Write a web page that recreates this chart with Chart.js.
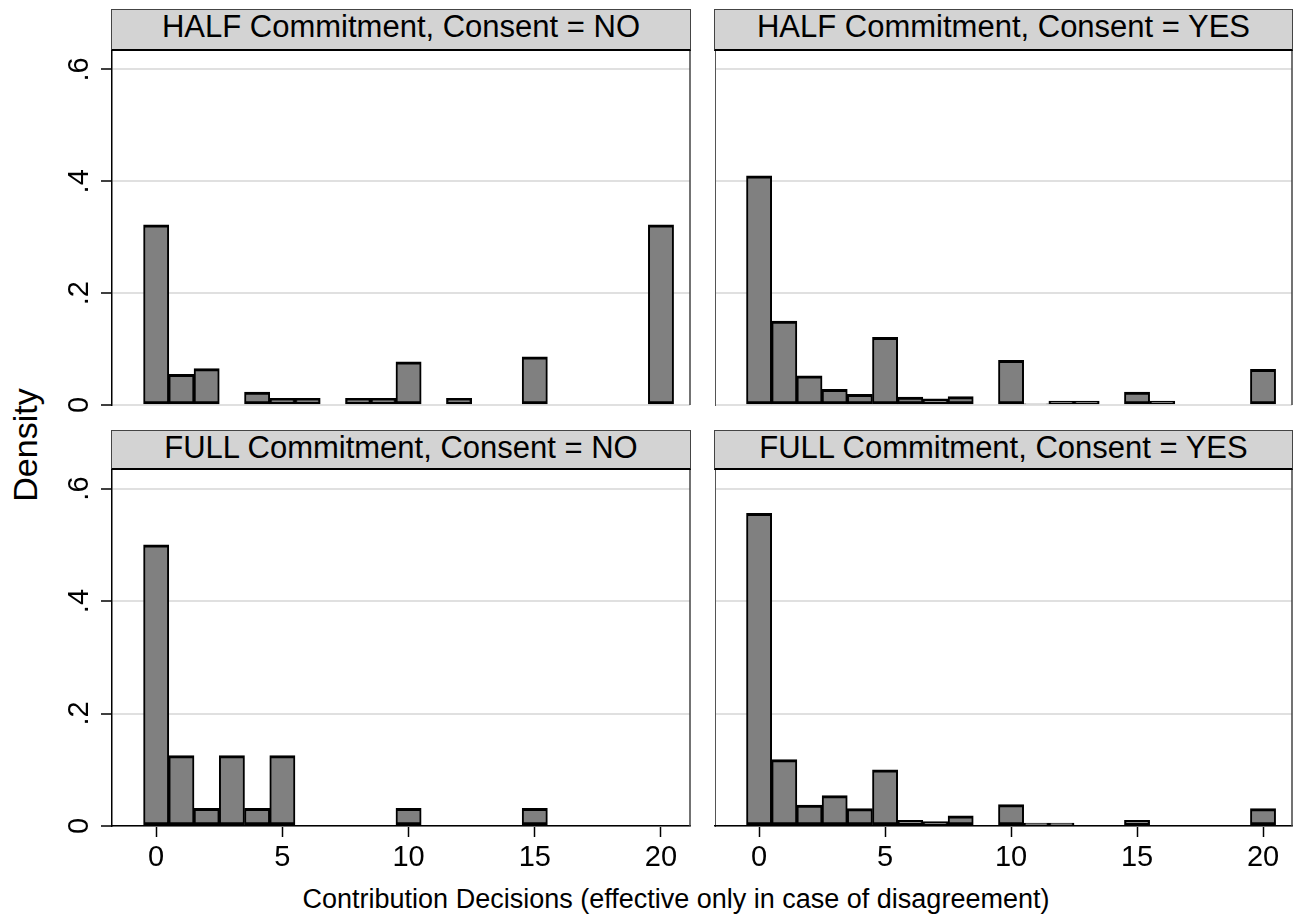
<!DOCTYPE html>
<html>
<head>
<meta charset="utf-8">
<script src="https://cdn.jsdelivr.net/npm/chart.js@4.4.0/dist/chart.umd.min.js"></script>
<style>
  body { margin: 0; background: #fff; }
  #wrap { position: relative; width: 1296px; height: 923px; overflow: hidden; font-family: "Liberation Sans", Arial, sans-serif; color: #000; }
  canvas { position: absolute; }
  .head { position: absolute; box-sizing: border-box; background: #d3d3d3; border: 1px solid #444; border-bottom: 2.5px solid #000; }
  .headtxt { position: absolute; font-size: 31px; line-height: 31px; text-align: center; white-space: nowrap; }
  #ytitle { position: absolute; left: -75px; top: 425px; width: 200px; height: 40px; line-height: 40px; font-size: 34px; text-align: center; transform: rotate(-90deg); }
  #xtitle { position: absolute; left: 176px; top: 886px; width: 1000px; font-size: 27px; line-height: 27px; text-align: center; white-space: nowrap; }
</style>
</head>
<body>
<div id="wrap">
  <div id="ytitle">Density</div>
  <div id="xtitle">Contribution Decisions (effective only in case of disagreement)</div>
</div>
<script>
// data (density per 1-unit bin, bins centred on integers)
const panelTitles = [
  'HALF Commitment, Consent = NO',
  'HALF Commitment, Consent = YES',
  'FULL Commitment, Consent = NO',
  'FULL Commitment, Consent = YES'
];

const halfNoBins = [0, 1, 2, 4, 5, 6, 8, 9, 10, 12, 15, 20];
const halfNoDensity = [0.322, 0.055, 0.065, 0.023, 0.012, 0.012, 0.012, 0.012, 0.077, 0.012, 0.086, 0.322];

const halfYesBins = [0, 1, 2, 3, 4, 5, 6, 7, 8, 10, 11, 12, 13, 15, 16, 20];
const halfYesDensity = [0.410, 0.150, 0.052, 0.028, 0.019, 0.121, 0.014, 0.011, 0.015, 0.080, 0.002, 0.007, 0.007, 0.023, 0.007, 0.064];

const fullNoBins = [0, 1, 2, 3, 4, 5, 10, 15];
const fullNoDensity = [0.5, 0.125, 0.03125, 0.125, 0.03125, 0.125, 0.03125, 0.03125];

const fullYesBins = [0, 1, 2, 3, 4, 5, 6, 7, 8, 10, 11, 12, 15, 20];
const fullYesDensity = [0.556, 0.118, 0.037, 0.054, 0.031, 0.100, 0.010, 0.008, 0.018, 0.038, 0.005, 0.005, 0.010, 0.031];

const xTicks = [0, 5, 10, 15, 20];
const yTicks = [0, 0.2, 0.4, 0.6];
const yTickLabels = ['0', '.2', '.4', '.6'];

const FONT = '"Liberation Sans", Arial, sans-serif';

// panel boxes: [left, top, right, bottom] of the plot region
const panels = [
  { bins: halfNoBins, dens: halfNoDensity, left: true, bottom: false, box: [112, 51, 690, 405], head: [111, 9, 580, 42], txtTop: 11 },
  { bins: halfYesBins, dens: halfYesDensity, left: false, bottom: false, box: [715, 51, 1292, 405], head: [714, 9, 579, 42], txtTop: 11 },
  { bins: fullNoBins, dens: fullNoDensity, left: true, bottom: true, box: [112, 470, 690, 826], head: [111, 430, 580, 40], txtTop: 432 },
  { bins: fullYesBins, dens: fullYesDensity, left: false, bottom: true, box: [715, 470, 1292, 826], head: [714, 430, 579, 40], txtTop: 432 }
];

const frame = {
  id: 'frame',
  afterDraw(chart) {
    const a = chart.chartArea;
    const ctx = chart.ctx;
    ctx.save();
    ctx.strokeStyle = '#444';
    ctx.lineWidth = 1.5;
    ctx.beginPath();
    ctx.moveTo(a.right, a.top);
    ctx.lineTo(a.right, a.bottom);
    ctx.stroke();
    ctx.restore();
  }
};

const yLabels = {
  id: 'yLabels',
  afterDraw(chart, args, opts) {
    if (!opts.show) return;
    const ctx = chart.ctx;
    const ys = chart.scales.y;
    ctx.save();
    ctx.font = '29px ' + FONT;
    ctx.fillStyle = '#000';
    ctx.textAlign = 'center';
    ctx.textBaseline = 'alphabetic';
    yTicks.forEach(function(v, i) {
      ctx.save();
      ctx.translate(88, ys.getPixelForValue(v));
      ctx.rotate(-Math.PI / 2);
      ctx.fillText(yTickLabels[i], 0, 0);
      ctx.restore();
    });
    ctx.restore();
  }
};

const wrap = document.getElementById('wrap');

panels.forEach(function(p, idx) {
  // header strip
  const h = document.createElement('div');
  h.className = 'head';
  h.style.left = p.head[0] + 'px';
  h.style.top = p.head[1] + 'px';
  h.style.width = p.head[2] + 'px';
  h.style.height = p.head[3] + 'px';
  wrap.appendChild(h);

  const t = document.createElement('div');
  t.className = 'headtxt';
  t.style.left = p.head[0] + 'px';
  t.style.width = p.head[2] + 'px';
  t.style.top = p.txtTop + 'px';
  t.textContent = panelTitles[idx];
  wrap.appendChild(t);

  // canvas sized so the chart area lands on the plot box
  const axisW = p.left ? 112 : 0;
  const padL = p.left ? 0 : 3;
  const axisH = p.bottom ? 54 : 0;
  const padB = p.bottom ? 0 : 14;
  const cLeft = p.box[0] - axisW - padL;
  const cTop = p.box[1] - 3;
  const w = p.box[2] - cLeft + 3;
  const hgt = p.box[3] - cTop + axisH + padB;

  const canvas = document.createElement('canvas');
  canvas.width = w;
  canvas.height = hgt;
  canvas.style.left = cLeft + 'px';
  canvas.style.top = cTop + 'px';
  canvas.style.width = w + 'px';
  canvas.style.height = hgt + 'px';
  wrap.appendChild(canvas);

  const points = p.bins.map(function(b, i) { return { x: b, y: p.dens[i] }; });

  new Chart(canvas.getContext('2d'), {
    type: 'bar',
    data: {
      datasets: [{
        data: points,
        backgroundColor: '#808080',
        borderColor: '#000',
        borderWidth: { top: 3, bottom: 3, left: 2, right: 2 },
        borderSkipped: false,
        barPercentage: 1,
        categoryPercentage: 1
      }]
    },
    options: {
      responsive: false,
      animation: false,
      devicePixelRatio: 1,
      layout: { padding: { left: padL, right: 3, top: 3, bottom: padB } },
      plugins: {
        legend: { display: false },
        tooltip: { enabled: false },
        yLabels: { show: p.left }
      },
      scales: {
        x: {
          type: 'linear',
          min: -1.75,
          max: 21.15,
          offset: false,
          display: p.bottom,
          afterBuildTicks: function(s) { s.ticks = xTicks.map(function(v) { return { value: v }; }); },
          afterFit: function(s) { s.height = axisH; },
          grid: { offset: false, drawOnChartArea: false, drawTicks: true, tickLength: 11, tickColor: '#000', tickWidth: 1.5 },
          border: { color: '#000', width: 1.5, z: 1 },
          ticks: { font: { family: FONT, size: 29 }, color: '#000', padding: 4, maxRotation: 0, autoSkip: false }
        },
        y: {
          min: 0,
          max: 0.633,
          afterBuildTicks: function(s) { s.ticks = yTicks.map(function(v) { return { value: v }; }); },
          afterFit: function(s) { s.width = axisW; },
          grid: { color: '#e0e0e0', lineWidth: 2, drawTicks: p.left, tickLength: 11, tickColor: '#000', tickWidth: 1.5 },
          border: { color: p.left ? '#000' : '#555', width: p.left ? 1.5 : 1 },
          ticks: { display: false }
        }
      }
    },
    plugins: [frame, yLabels]
  });
});
</script>
</body>
</html>
